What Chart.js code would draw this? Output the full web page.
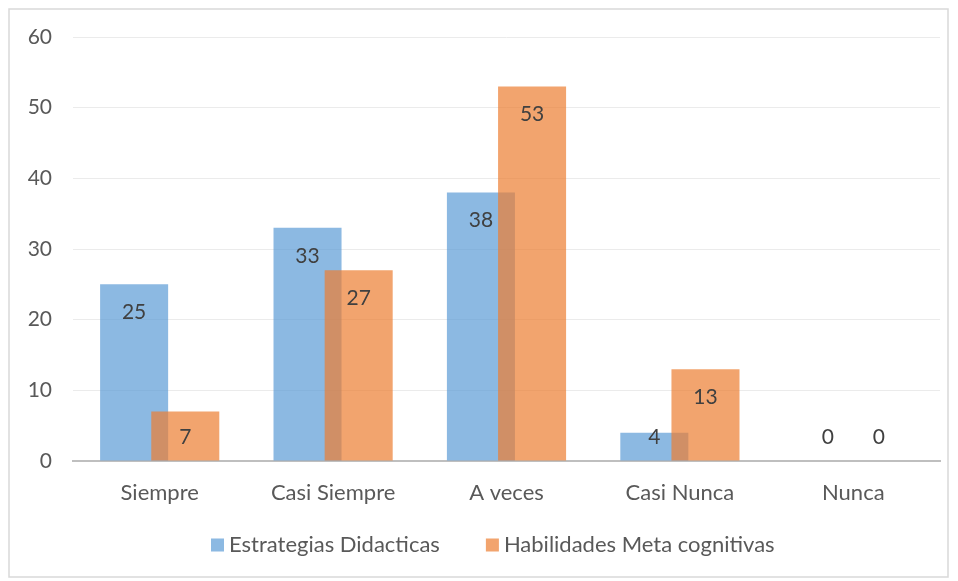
<!DOCTYPE html>
<html>
<head>
<meta charset="utf-8">
<script src="https://cdn.jsdelivr.net/npm/chart.js@4"></script>
<style>
  html, body { margin: 0; padding: 0; background: #fff; }
  #wrap { width: 958px; height: 581px; }
</style>
</head>
<body>
<div id="wrap"><canvas id="grafico" width="958" height="581"></canvas></div>
<script>
// datos del gráfico
const categorias = ['Siempre', 'Casi Siempre', 'A veces', 'Casi Nunca', 'Nunca'];
const estrategias = [25, 33, 38, 4, 0];
const habilidades = [7, 27, 53, 13, 0];
const nombresSeries = ['Estrategias Didacticas', 'Habilidades Meta cognitivas'];
const ticksY = [0, 10, 20, 30, 40, 50, 60];

const fuente = 'Lato, "Open Sans", sans-serif';
const tam = 22;
const azul = 'rgba(91,155,213,0.7)';
const naranja = 'rgba(237,125,49,0.7)';

// marco, orden de dibujo, etiquetas y leyenda
const extras = {
    id: 'extras',
    beforeDatasetsDraw(chart) {
        // azul primero, naranja encima
        chart.getDatasetMeta(0).controller.draw();
    },
    beforeDatasetDraw(chart, args) {
        if (args.index === 0) return false;
    },
    afterDatasetsDraw(chart) {
        const ctx = chart.ctx;
        const base = chart.scales.y.getPixelForValue(0);
        ctx.save();
        ctx.font = (tam - 1) + 'px ' + fuente;
        ctx.fillStyle = '#404040';
        ctx.textAlign = 'center';
        ctx.textBaseline = 'middle';
        chart.data.datasets.forEach((ds, i) => {
            chart.getDatasetMeta(i).data.forEach((bar, j) => {
                const y = Math.min(bar.y + 28, base - 24);
                ctx.fillText(String(ds.data[j]), bar.x, y);
            });
        });
        ctx.restore();
    },
    afterDraw(chart) {
        const ctx = chart.ctx;
        ctx.save();
        ctx.strokeStyle = '#d9d9d9';
        ctx.lineWidth = 1.5;
        ctx.strokeRect(9, 9, 939, 568);

        // leyenda
        ctx.font = tam + 'px ' + fuente;
        ctx.textBaseline = 'middle';
        ctx.textAlign = 'left';
        const cy = 545;
        const caja = 13, sep = 5, hueco = 46;
        let x = 211;
        chart.data.datasets.forEach(ds => {
            ctx.fillStyle = ds.backgroundColor;
            ctx.fillRect(x, cy - caja / 2, caja, caja);
            ctx.fillStyle = '#595959';
            ctx.fillText(ds.label, x + caja + sep, cy);
            x += caja + sep + ctx.measureText(ds.label).width + hueco;
        });
        ctx.restore();
    }
};

new Chart(document.getElementById('grafico'), {
    type: 'bar',
    data: {
        labels: categorias,
        datasets: [
            { label: nombresSeries[0], data: estrategias, backgroundColor: azul },
            { label: nombresSeries[1], data: habilidades, backgroundColor: naranja }
        ]
    },
    options: {
        responsive: false,
        animation: false,
        categoryPercentage: 0.59,
        barPercentage: 1.33,
        layout: { padding: { left: 9, right: 18, top: 37, bottom: 75 } },
        plugins: {
            legend: { display: false },
            tooltip: { enabled: false }
        },
        scales: {
            x: {
                afterFit: s => { s.height = 45; },
                grid: { display: false, drawTicks: false },
                border: { color: '#bfbfbf', width: 2 },
                ticks: { color: '#595959', font: { family: fuente, size: tam }, padding: 19 }
            },
            y: {
                min: 0,
                max: 60,
                afterBuildTicks: s => { s.ticks = ticksY.map(v => ({ value: v })); },
                afterFit: s => { s.width = 64; },
                border: { display: false },
                grid: { color: '#ebebeb', drawTicks: false },
                ticks: { color: '#595959', font: { family: fuente, size: tam - 1 }, padding: 21 }
            }
        }
    },
    plugins: [extras]
});
</script>
</body>
</html>
